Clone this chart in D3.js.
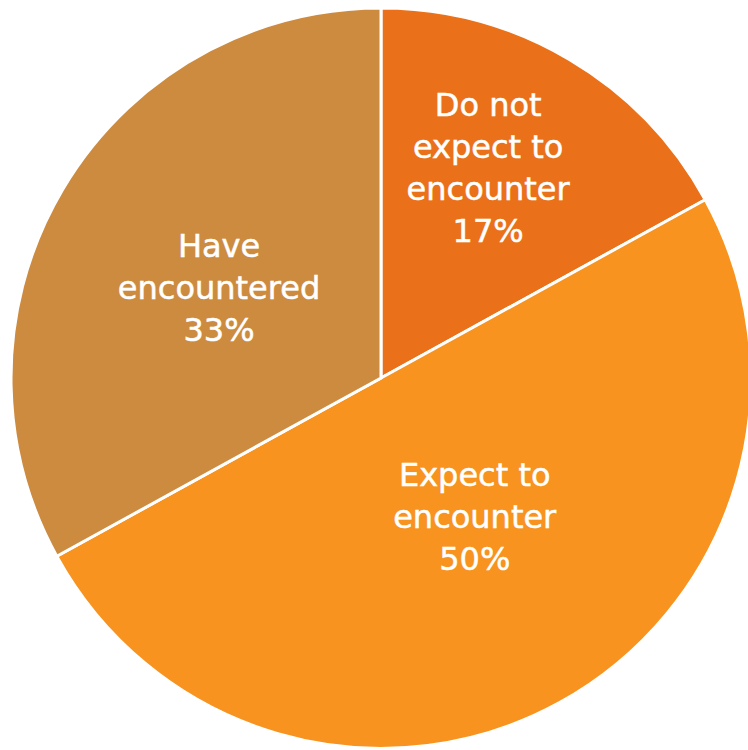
<!DOCTYPE html>
<html>
<head>
<meta charset="utf-8">
<script src="https://cdn.jsdelivr.net/npm/d3@7"></script>
<style>
  html, body { margin: 0; padding: 0; background: #fff; }
  svg { display: block; }
</style>
</head>
<body>
<svg id="chart" width="748" height="750"></svg>
<script>
// Share of respondents by encounter status
const categories = ["Do not expect to encounter", "Expect to encounter", "Have encountered"];
const labelLines = [["Do not", "expect to", "encounter"], ["Expect to", "encounter"], ["Have", "encountered"]];
const values = [17, 50, 33];
const colors = ["#EA7119", "#F7931E", "#CD8B40"];

// Layout
const width = 748, height = 750;
const cx = 381, cy = 378, radius = 370;
// label anchor: angle (deg, clockwise from top) and distance as fraction of radius
const labelPolar = [[27, 0.638], [146, 0.453], [299.3, 0.502]];
const fontSize = 32, lineHeight = 42;

const svg = d3.select("#chart");
const g = svg.append("g").attr("transform", `translate(${cx},${cy})`);

const pie = d3.pie().sort(null).value(d => d.value);
const arc = d3.arc().innerRadius(0).outerRadius(radius);

const data = categories.map((c, i) => ({ name: c, value: values[i], color: colors[i], lines: labelLines[i], polar: labelPolar[i] }));
const arcs = pie(data);

g.selectAll("path.slice")
  .data(arcs)
  .join("path")
  .attr("class", "slice")
  .attr("d", arc)
  .attr("fill", d => d.data.color)
  .attr("stroke", "#fff")
  .attr("stroke-width", 3)
  .attr("stroke-linejoin", "miter");

g.selectAll("text.label")
  .data(arcs)
  .join("text")
  .attr("class", "label")
  .attr("text-anchor", "middle")
  .attr("fill", "#fff")
  .attr("stroke", "#fff")
  .attr("stroke-width", 0.5)
  .style("font-family", "'DejaVu Sans', sans-serif")
  .style("font-size", fontSize + "px")
  .each(function (d) {
    const [deg, frac] = d.data.polar;
    const a = deg * Math.PI / 180;
    const x = Math.sin(a) * frac * radius;
    const y = -Math.cos(a) * frac * radius;
    const lines = d.data.lines.concat([d3.format(".0f")(d.data.value) + "%"]);
    const capHalf = fontSize * 0.36;
    const firstBaseline = y - ((lines.length - 1) * lineHeight) / 2 + capHalf;
    const t = d3.select(this);
    lines.forEach((ln, i) => {
      t.append("tspan")
        .attr("x", x)
        .attr("y", firstBaseline + i * lineHeight)
        .text(ln);
    });
  });
</script>
</body>
</html>
